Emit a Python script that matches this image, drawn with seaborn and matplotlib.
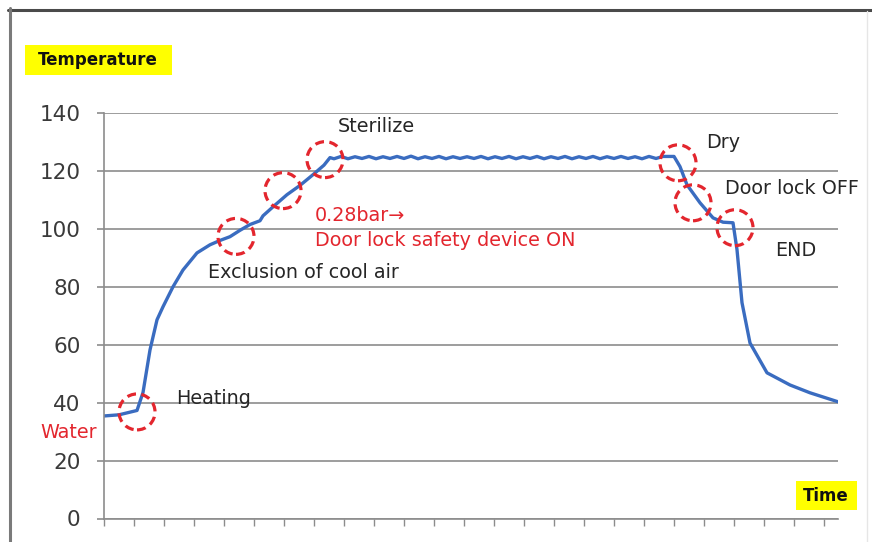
import matplotlib
matplotlib.use("Agg")
import matplotlib.pyplot as plt
from matplotlib.patches import Ellipse, Rectangle
from matplotlib.lines import Line2D
import seaborn as sns
import pandas as pd

# sterilizer temperature cycle (time in minutes, 3 min per tick)
heat_time = [0, 1.5, 3.3, 3.9, 4.6, 5.3, 5.9, 6.9, 7.9, 9.3, 10.6, 11.6, 12.6, 13.6,
             14.6, 15.6, 15.9, 16.9, 18.3, 19.6, 20.9, 22.0, 22.6]
heat_temp = [35.4, 35.8, 37.3, 43.5, 58.2, 68.6, 73.1, 80.0, 85.8, 91.7, 94.5, 96.0, 97.3, 99.5,
             101.5, 102.8, 104.5, 107.6, 111.8, 115.0, 118.7, 122.0, 124.6]

hold_time = [23.0, 23.7, 24.4, 25.1, 25.8, 26.5, 27.2, 27.9, 28.6, 29.3,
             30.0, 30.7, 31.4, 32.1, 32.8, 33.5, 34.2, 34.9, 35.6, 36.3,
             37.0, 37.7, 38.4, 39.1, 39.8, 40.5, 41.2, 41.9, 42.6, 43.3,
             44.0, 44.7, 45.4, 46.1, 46.8, 47.5, 48.2, 48.9, 49.6, 50.3,
             51.0, 51.7, 52.4, 53.1, 53.8, 54.5, 55.2, 55.9]
hold_temp = [124.2, 125.0, 124.2, 124.9, 124.3, 125.0, 124.2, 124.9, 124.3, 125.0,
             124.3, 125.1, 124.2, 124.9, 124.3, 125.0, 124.2, 124.9, 124.3, 124.9,
             124.3, 125.0, 124.2, 124.9, 124.3, 125.0, 124.2, 124.9, 124.3, 125.0,
             124.2, 124.9, 124.3, 125.0, 124.2, 124.9, 124.3, 125.0, 124.2, 124.9,
             124.3, 125.0, 124.3, 124.9, 124.2, 125.0, 124.3, 125.0]

cool_time = [57.0, 57.6, 58.3, 59.6, 60.9, 61.9, 62.9, 63.3, 63.8, 64.6, 66.3, 68.6, 70.6, 73.4]
cool_temp = [125.0, 121.5, 115.2, 109.0, 103.8, 102.3, 102.1, 92.8, 74.5, 60.6, 50.3, 46.1, 43.4, 40.3]

# marked events (time, temperature)
events = ["Heating", "Exclusion", "LockOn", "Sterilize", "Dry", "LockOff", "End"]
event_time = [3.3, 13.2, 17.9, 22.1, 57.4, 58.9, 63.1]
event_temp = [36.8, 97.4, 113.2, 123.9, 122.8, 109.0, 100.4]

y_ticks = [0, 20, 40, 60, 80, 100, 120, 140]
x_ticks = [3 * k for k in range(25)]

df = pd.DataFrame({
    "time": heat_time + hold_time + cool_time,
    "temp": heat_temp + hold_temp + cool_temp,
})

sns.set_style("white")
plt.rcParams["font.family"] = ["DejaVu Sans"]

W, H = 872, 542
fig = plt.figure(figsize=(W / 100, H / 100), dpi=100)


def fx(x):
    return x / W


def fy(y):
    return 1 - y / H


ax = fig.add_axes([fx(104), fy(518.5), fx(734), 405.5 / H])

grid_c = "#8c8c8c"
sns.lineplot(data=df, x="time", y="temp", ax=ax, color="#3a6cc0", linewidth=2.4,
             sort=False, estimator=None)

ax.set_xlim(0, 73.4)
ax.set_ylim(0, 140)
ax.set_yticks(y_ticks)
ax.set_xticks(x_ticks)
ax.set_xticklabels([])
ax.yaxis.grid(True, color=grid_c, linewidth=1.2)
ax.set_axisbelow(True)
ax.set_xlabel("")
ax.set_ylabel("")
for s in ["top", "right"]:
    ax.spines[s].set_visible(False)
for s in ["left", "bottom"]:
    ax.spines[s].set_color(grid_c)
    ax.spines[s].set_linewidth(1.2)
ax.tick_params(axis="y", length=5, width=1.2, color=grid_c, pad=12,
               labelsize=15.5, labelcolor="#3a3a3a", left=True)
ax.tick_params(axis="x", length=5, width=1.0, color=grid_c, bottom=True, direction="out")

red = "#e3262e"
for t, v in zip(event_time, event_temp):
    ax.add_patch(Ellipse((t, v), 3.6, 12.4, fill=False, edgecolor=red, linewidth=2.3,
                         linestyle=(0, (2.8, 1.7)), zorder=5, clip_on=False))

txt = "#262626"
fs = 13.8
fig.text(fx(176), fy(398), "Heating", fontsize=fs, color=txt, va="center")
fig.text(fx(208), fy(273), "Exclusion of cool air", fontsize=fs, color=txt, va="center")
fig.text(fx(315), fy(215), "0.28bar→", fontsize=fs, color=red, va="center")
fig.text(fx(315), fy(241), "Door lock safety device ON", fontsize=fs, color=red, va="center")
fig.text(fx(338), fy(127), "Sterilize", fontsize=fs, color=txt, va="center")
fig.text(fx(706), fy(143), "Dry", fontsize=fs, color=txt, va="center")
fig.text(fx(725), fy(188), "Door lock OFF", fontsize=fs, color=txt, va="center")
fig.text(fx(775), fy(250), "END", fontsize=fs, color=txt, va="center")
fig.text(fx(40), fy(432), "Water", fontsize=fs, color=red, va="center")

# yellow axis captions
fig.patches.append(Rectangle((fx(25), fy(75)), fx(147), 30 / H, transform=fig.transFigure,
                             facecolor="#ffff00", edgecolor="none", zorder=0))
fig.text(fx(98), fy(60), "Temperature", fontsize=12, fontweight="bold", color="#111111",
         ha="center", va="center")
fig.patches.append(Rectangle((fx(796), fy(510)), fx(61), 29 / H, transform=fig.transFigure,
                             facecolor="#ffff00", edgecolor="none", zorder=0))
fig.text(fx(826), fy(496), "Time", fontsize=12, fontweight="bold", color="#111111",
         ha="center", va="center")

# picture frame
fig.lines.append(Line2D([fx(8), 1], [fy(9.5), fy(9.5)], transform=fig.transFigure,
                        color="#4a4a4a", linewidth=2.2))
fig.lines.append(Line2D([fx(9.5), fx(9.5)], [fy(8), 0], transform=fig.transFigure,
                        color="#7a7a7a", linewidth=2.2))
fig.lines.append(Line2D([fx(867), fx(867)], [fy(11), 0], transform=fig.transFigure,
                        color="#e6e6e6", linewidth=1.0))

fig.savefig("out.png", dpi=100)
